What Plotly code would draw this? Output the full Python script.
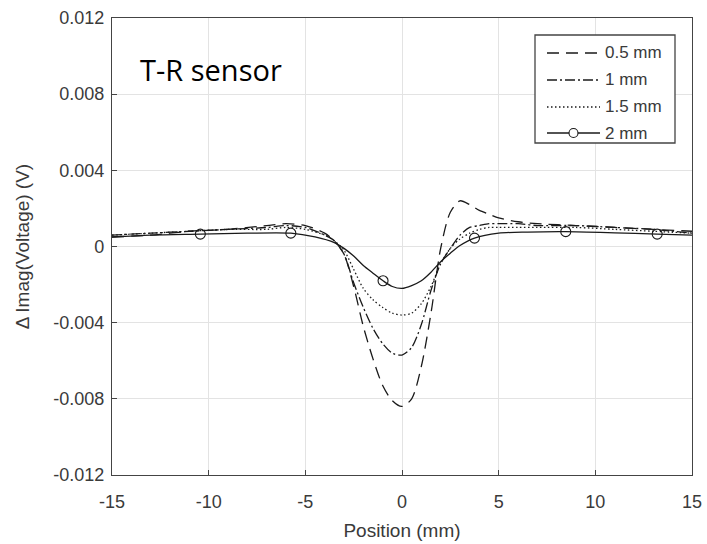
import plotly.graph_objects as go

# ---------------- data ----------------
x_common = [-15, -13, -11, -9, -7, -6, -5, -4, -3.5, -3, -2.5, -2, -1.5, -1, -0.5, 0,
            0.5, 1, 1.5, 2, 2.5, 3, 3.5, 4, 4.5, 5, 6, 7, 9, 11, 13, 15]

y_05mm = [0.0005, 0.0006, 0.0008, 0.0009, 0.0011, 0.0012, 0.0011, 0.0007, 0.0003, -0.0004,
          -0.0021, -0.0042, -0.0059, -0.0073, -0.0081, -0.0084,
          -0.0080, -0.0063, -0.0035, -0.0001, 0.0018, 0.0024, 0.0022, 0.0019, 0.0017, 0.0015,
          0.0013, 0.0012, 0.0011, 0.0010, 0.0009, 0.0008]

y_1mm = [0.0006, 0.0007, 0.0008, 0.0009, 0.0010, 0.0011, 0.0010, 0.0006, 0.0003, -0.0004,
         -0.0019, -0.0032, -0.0043, -0.0051, -0.0056, -0.0057,
         -0.0053, -0.0041, -0.0023, -0.0009, -0.0001, 0.0006, 0.0010, 0.0011, 0.0012, 0.0012,
         0.0012, 0.0011, 0.0011, 0.0010, 0.0009, 0.0007]

y_15mm = [0.0006, 0.0007, 0.0008, 0.0009, 0.0009, 0.0010, 0.0009, 0.0006, 0.0003, -0.0002,
          -0.0012, -0.0022, -0.0028, -0.0032, -0.0035, -0.0036,
          -0.0035, -0.0030, -0.0021, -0.0009, -0.0001, 0.0004, 0.0007, 0.0009, 0.0010, 0.0010,
          0.0010, 0.0010, 0.0010, 0.0009, 0.0008, 0.0007]

x_2mm = [-15, -13, -10.43, -8, -5.75, -4.5, -3.5, -3, -2.5, -2, -1.5, -0.98, -0.5, 0,
         0.5, 1, 1.5, 2, 2.5, 3, 3.75, 5, 6.5, 8.47, 11, 13.2, 15]
y_2mm = [0.0005, 0.0006, 0.00065, 0.0007, 0.0007, 0.0005, 0.0002, -0.0001, -0.0005, -0.0010,
         -0.0014, -0.0018, -0.0021, -0.0022, -0.00205, -0.0018, -0.00135, -0.0008, -0.00035,
         0.00005, 0.00044, 0.0007, 0.00076, 0.00078, 0.00072, 0.00065, 0.0006]
marker_x_2mm = [-10.43, -5.75, -0.98, 3.75, 8.47, 13.2]
marker_y_2mm = [y_2mm[x_2mm.index(v)] for v in marker_x_2mm]

series_names = ["0.5 mm", "1 mm", "1.5 mm", "2 mm"]

x_tickvals = [-15, -10, -5, 0, 5, 10, 15]
x_ticktext = ["-15", "-10", "-5", "0", "5", "10", "15"]
y_tickvals = [0.012, 0.008, 0.004, 0, -0.004, -0.008, -0.012]
y_ticktext = ["0.012", "0.008", "0.004", "0", "-0.004", "-0.008", "-0.012"]

# ---------------- styling ----------------
W, H = 707, 544
L, R, T, B = 112, 15, 18, 69
LINE = "#1a1a1a"
dashes = ["12px,7px", "10px,3px,2px,3px", "1.5px,2.5px", "solid"]
FONT = "Liberation Sans, Arial, sans-serif"


def px_x(p):
    return (p - L) / (W - L - R)


def px_y(p):
    return (H - B - p) / (H - T - B)


fig = go.Figure()
series = [(x_common, y_05mm), (x_common, y_1mm), (x_common, y_15mm), (x_2mm, y_2mm)]
for (xs, ys), d, n in zip(series, dashes, series_names):
    fig.add_trace(go.Scatter(x=xs, y=ys, mode="lines", name=n, showlegend=False,
                             line=dict(color=LINE, width=1.3, dash=d, shape="spline", smoothing=0.8)))
fig.add_trace(go.Scatter(x=marker_x_2mm, y=marker_y_2mm, mode="markers", showlegend=False,
                         marker=dict(symbol="circle-open", size=10, color=LINE, line=dict(width=1.1))))

axis_common = dict(showline=True, mirror=True, linecolor="#444", linewidth=1.4,
                   ticks="inside", ticklen=5, tickcolor="#444", tickwidth=1,
                   showgrid=True, gridcolor="#e3e3e3", gridwidth=1, zeroline=False,
                   automargin=False,
                   tickfont=dict(family=FONT, size=18, color="#3a3a3a"))

fig.update_layout(
    width=W, height=H, margin=dict(l=L, r=R, t=T, b=B),
    paper_bgcolor="white", plot_bgcolor="white", showlegend=False,
    xaxis=dict(range=[-15, 15], tickmode="array", tickvals=x_tickvals, ticktext=x_ticktext,
               ticklabelstandoff=10,
               title=dict(text="Position (mm)", font=dict(family=FONT, size=19, color="#3a3a3a"), standoff=12),
               **axis_common),
    yaxis=dict(range=[-0.012, 0.012], tickmode="array", tickvals=y_tickvals, ticktext=y_ticktext,
               ticklabelstandoff=3,
               title=dict(text="\u0394\u2009Imag(Voltage) (V)", font=dict(family=FONT, size=19, color="#3a3a3a"), standoff=18),
               **axis_common),
)

# label inside plot
fig.add_annotation(x=px_x(138), y=px_y(70), xref="paper", yref="paper", xanchor="left", yanchor="middle",
                   text="T-R sensor", showarrow=False,
                   font=dict(family="Open Sans, Noto Sans, sans-serif", size=29, color="#000"))

# custom legend box
fig.add_shape(type="rect", xref="paper", yref="paper", x0=px_x(535), x1=px_x(675), y0=px_y(143), y1=px_y(35),
              line=dict(color="#444", width=1.3), fillcolor="white", layer="above")
rows = [53, 80, 107, 133]
for n, d, ry in zip(series_names, dashes, rows):
    fig.add_shape(type="line", xref="paper", yref="paper", x0=px_x(547), x1=px_x(600), y0=px_y(ry), y1=px_y(ry),
                  line=dict(color=LINE, width=1.3, dash=d), layer="above")
    fig.add_annotation(x=px_x(603), y=px_y(ry), xref="paper", yref="paper", xanchor="left", yanchor="middle",
                       text=n, showarrow=False, font=dict(family=FONT, size=17, color="#3a3a3a"))
fig.add_shape(type="circle", xref="paper", yref="paper", xsizemode="pixel", ysizemode="pixel",
              xanchor=px_x(573.5), yanchor=px_y(rows[3]), x0=-4.5, x1=4.5, y0=-4.5, y1=4.5,
              line=dict(color=LINE, width=1.1), fillcolor="white", layer="above")

fig.write_html("out.html", config={"displayModeBar": False},
               post_script="document.body.style.margin='0';document.body.style.overflow='hidden';")
